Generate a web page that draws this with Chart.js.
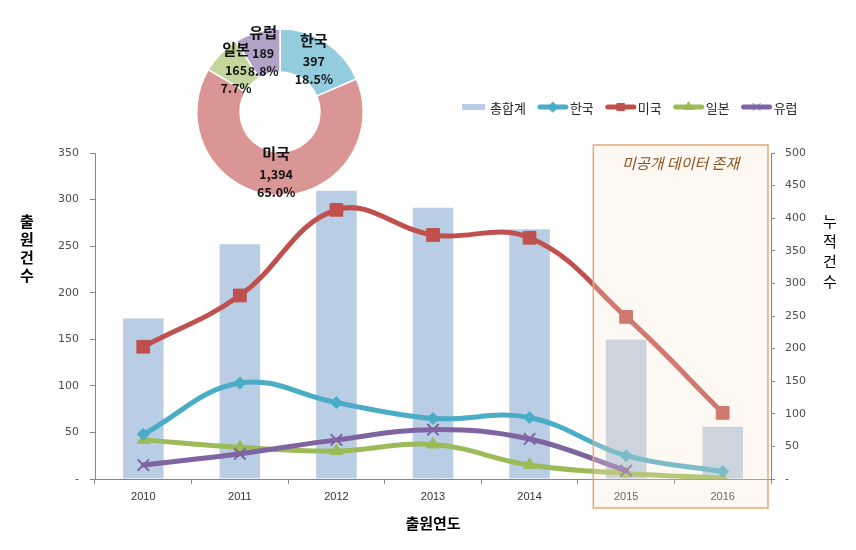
<!DOCTYPE html>
<html>
<head>
<meta charset="utf-8">
<script src="https://cdn.jsdelivr.net/npm/chart.js@4.4.1/dist/chart.umd.min.js"></script>
<style>
  html, body { margin: 0; padding: 0; background: #fff; }
  #wrap { position: relative; width: 856px; height: 550px; }
  #main { position: absolute; left: 0; top: 0; }
  #pie { position: absolute; left: 180px; top: 12px; }
</style>
</head>
<body>
<div id="wrap">
  <canvas id="main" width="856" height="550"></canvas>
  <canvas id="pie" width="200" height="200"></canvas>
</div>
<script>
// data
const YEARS = ['2010', '2011', '2012', '2013', '2014', '2015', '2016'];
const TOTAL = [246, 360, 442, 416, 383, 214, 80];   // 누적건수 (right axis)
const KOREA = [48, 103, 82, 65, 66, 25, 8];
const USA = [142, 197, 289, 262, 259, 174, 71];
const JAPAN = [42, 34, 30, 37, 15, 6, 1];
const EUROPE = [15, 27, 42, 53, 43, 9, null];

const SHARE_LABELS = ['한국', '미국', '일본', '유럽'];
const SHARE_VALUES = [397, 1394, 165, 189];

const LEFT_MAX = 350;
const RIGHT_MAX = 500;
const TICK_STEP = 50;
const UNPUBLISHED_FROM = 5; // index of 2015

const KR_FONT = "'Noto Sans CJK KR', 'Noto Sans', sans-serif";

function lineSet(label, data, color, style, radius, order) {
  return {
    type: 'line',
    label,
    data,
    yAxisID: 'y',
    order,
    borderColor: color,
    backgroundColor: color,
    borderWidth: 5,
    borderCapStyle: 'round',
    borderJoinStyle: 'round',
    tension: 0.4,
    pointStyle: style,
    pointRadius: radius,
    pointBorderColor: color,
    pointBackgroundColor: color,
    pointBorderWidth: style === 'crossRot' ? 2 : 1
  };
}

const zeroDash = v => (v === 0 ? '-' : v);

// box "미공개 데이터 존재", legend and axis titles
const overlayPlugin = {
  id: 'overlay',
  afterDatasetsDraw(chart) {
    const { ctx, chartArea, scales } = chart;
    const step = scales.x.getPixelForValue(1) - scales.x.getPixelForValue(0);
    const left = scales.x.getPixelForValue(UNPUBLISHED_FROM) - step * 0.34;
    const right = chartArea.right - 3;
    const top = chartArea.top - 8;
    const bottom = chartArea.bottom + 29;

    ctx.save();
    ctx.fillStyle = 'rgba(252, 230, 208, 0.28)';
    ctx.fillRect(left, top, right - left, bottom - top);
    ctx.strokeStyle = '#e3aa78';
    ctx.lineWidth = 1.5;
    ctx.strokeRect(left, top, right - left, bottom - top);

    ctx.fillStyle = '#8a5220';
    ctx.font = `italic 15px ${KR_FONT}`;
    ctx.textAlign = 'center';
    ctx.textBaseline = 'middle';
    ctx.fillText('미공개 데이터 존재', (left + right) / 2, top + 18);
    ctx.restore();
  },
  afterDraw(chart) {
    const { ctx, chartArea } = chart;
    ctx.save();

    // legend
    let x = 462;
    const ly = 107;
    ctx.font = `13px ${KR_FONT}`;
    ctx.textBaseline = 'middle';
    ctx.textAlign = 'left';
    chart.data.datasets.forEach(ds => {
      if (ds.type === 'bar') {
        ctx.fillStyle = ds.backgroundColor;
        ctx.fillRect(x, ly - 3, 23, 6);
        x += 28;
      } else {
        ctx.strokeStyle = ds.borderColor;
        ctx.lineWidth = 5;
        ctx.lineCap = 'round';
        ctx.beginPath();
        ctx.moveTo(x + 2, ly);
        ctx.lineTo(x + 28, ly);
        ctx.stroke();
        ctx.fillStyle = ds.pointBackgroundColor;
        ctx.lineWidth = 1;
        Chart.helpers.drawPoint(ctx, {
          pointStyle: ds.pointStyle, radius: 5, borderWidth: 1, rotation: 0
        }, x + 15, ly);
        x += 32;
      }
      ctx.fillStyle = '#262626';
      ctx.fillText(ds.label, x, ly + 1);
      x += ctx.measureText(ds.label).width + 12;
    });

    // axis titles
    ctx.fillStyle = '#000';
    ctx.textAlign = 'center';
    ctx.font = `bold 15px ${KR_FONT}`;
    ['출', '원', '건', '수'].forEach((c, i) => ctx.fillText(c, 27, 221 + i * 18));
    ctx.font = `15px ${KR_FONT}`;
    ['누', '적', '건', '수'].forEach((c, i) => ctx.fillText(c, 830, 221 + i * 20));
    ctx.font = `bold 15px ${KR_FONT}`;
    ctx.fillText('출원연도', (chartArea.left + chartArea.right) / 2, 523);
    ctx.restore();
  }
};

new Chart(document.getElementById('main'), {
  data: {
    labels: YEARS,
    datasets: [
      {
        type: 'bar',
        label: '총합계',
        data: TOTAL,
        yAxisID: 'y2',
        order: 10,
        backgroundColor: '#b9cde5',
        barPercentage: 0.42,
        categoryPercentage: 1
      },
      lineSet('한국', KOREA, '#4bacc6', 'rectRot', 6, 1),
      lineSet('미국', USA, '#c0504d', 'rect', 9, 2),
      lineSet('일본', JAPAN, '#9bbb59', 'triangle', 7, 4),
      lineSet('유럽', EUROPE, '#8064a2', 'crossRot', 8, 3)
    ]
  },
  options: {
    responsive: false,
    animation: false,
    devicePixelRatio: 1,
    layout: { padding: { top: 153, left: 0, right: 0, bottom: 0 } },
    plugins: { legend: { display: false }, tooltip: { enabled: false } },
    scales: {
      x: {
        grid: { drawOnChartArea: false, tickLength: 5, color: '#868686', offset: true },
        border: { color: '#868686' },
        ticks: {
          font: { family: "'Liberation Sans Narrow', 'Liberation Sans', sans-serif", size: 11 },
          color: '#333',
          padding: 6,
          maxRotation: 0
        },
        afterFit: s => { s.height = 71; }
      },
      y: {
        position: 'left',
        min: 0,
        max: LEFT_MAX,
        ticks: {
          stepSize: TICK_STEP,
          callback: zeroDash,
          font: { family: "'DejaVu Sans', sans-serif", size: 11 },
          color: '#4d4d4d',
          padding: 11
        },
        grid: { drawOnChartArea: false, tickLength: 5, color: '#868686' },
        border: { color: '#868686' },
        afterFit: s => { s.width = 95; }
      },
      y2: {
        position: 'right',
        min: 0,
        max: RIGHT_MAX,
        ticks: {
          stepSize: TICK_STEP,
          callback: zeroDash,
          font: { family: "'DejaVu Sans', sans-serif", size: 11 },
          color: '#4d4d4d',
          padding: 10
        },
        grid: { drawOnChartArea: false, tickLength: 4, color: '#868686' },
        border: { color: '#868686' },
        afterFit: s => { s.width = 85; }
      }
    }
  },
  plugins: [overlayPlugin]
});

// share donut labels: name / count / percent at each slice centre
const sliceLabels = {
  id: 'sliceLabels',
  afterDatasetsDraw(chart) {
    const { ctx } = chart;
    const values = chart.data.datasets[0].data;
    const sum = values.reduce((a, b) => a + b, 0);
    ctx.save();
    ctx.fillStyle = '#111';
    ctx.textAlign = 'center';
    ctx.textBaseline = 'middle';
    chart.getDatasetMeta(0).data.forEach((arc, i) => {
      const p = arc.tooltipPosition(true);
      ctx.font = `bold 15px ${KR_FONT}`;
      ctx.fillText(chart.data.labels[i], p.x, p.y - 20);
      ctx.font = `bold 12.5px ${KR_FONT}`;
      ctx.fillText(values[i].toLocaleString('en-US'), p.x, p.y + 1);
      ctx.fillText((values[i] / sum * 100).toFixed(1) + '%', p.x, p.y + 19);
    });
    ctx.restore();
  }
};

new Chart(document.getElementById('pie'), {
  type: 'doughnut',
  data: {
    labels: SHARE_LABELS,
    datasets: [{
      data: SHARE_VALUES,
      backgroundColor: ['#93cddd', '#d99694', '#c3d69b', '#b3a2c7'],
      borderColor: '#fff',
      borderWidth: 1.5
    }]
  },
  options: {
    responsive: false,
    animation: false,
    devicePixelRatio: 1,
    cutout: '48%',
    layout: { padding: 16 },
    plugins: { legend: { display: false }, tooltip: { enabled: false } }
  },
  plugins: [sliceLabels]
});
</script>
</body>
</html>
